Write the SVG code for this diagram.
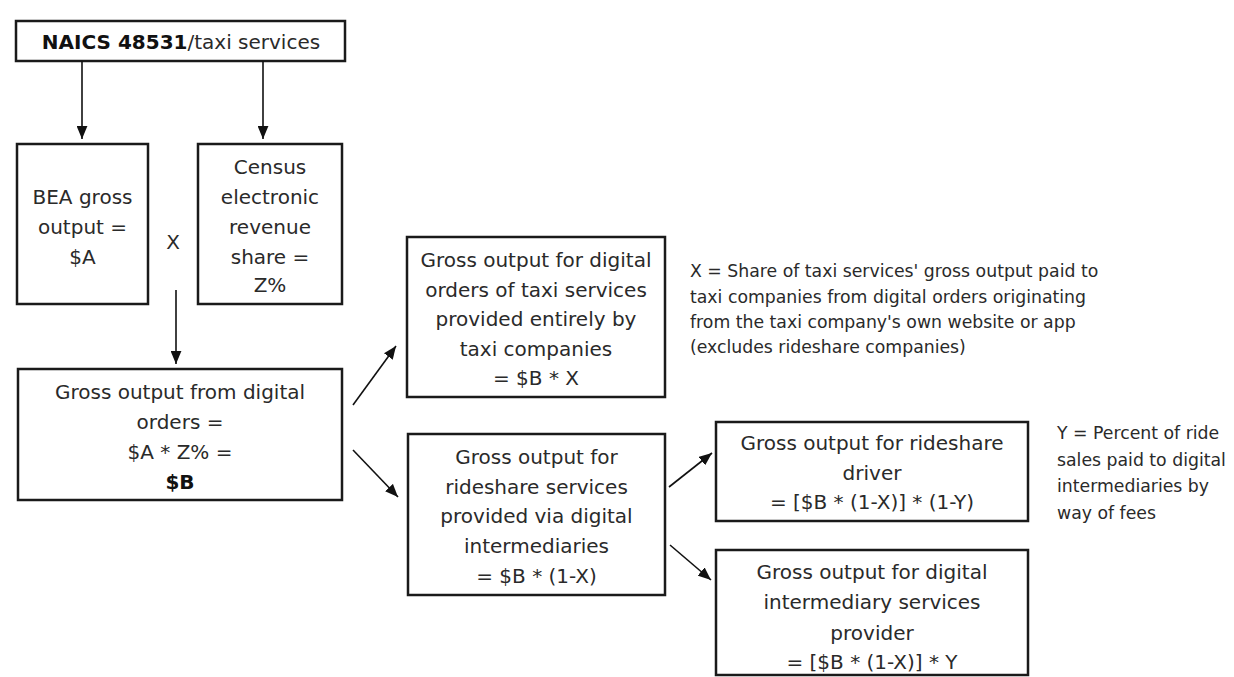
<svg xmlns="http://www.w3.org/2000/svg" width="1234" height="677" viewBox="0 0 1234 677">
  <defs>
    <marker id="ah" viewBox="0 0 12 10" refX="12" refY="5" markerWidth="13" markerHeight="11" markerUnits="userSpaceOnUse" orient="auto">
      <path d="M0,0 L12,5 L0,10 Z" fill="#111"/>
    </marker>
    <style>
      .box { fill: #fff; stroke: #1a1a1a; stroke-width: 2.5; }
      .t { font-family: "DejaVu Sans", "Liberation Sans", sans-serif; font-size: 20px; fill: #2a2a2a; text-anchor: middle; }
      .b { font-weight: bold; fill: #111; }
      .note { font-family: "DejaVu Sans", "Liberation Sans", sans-serif; font-size: 17.3px; fill: #2a2a2a; }
      .conn line { stroke: #111; stroke-width: 1.6; marker-end: url(#ah); }
    </style>
  </defs>
  <rect width="1234" height="677" fill="#fff"/>

  <g id="naics">
    <rect class="box" x="16" y="21" width="329" height="40"/>
    <text class="t" x="181" y="49"><tspan class="b">NAICS 48531</tspan>/taxi services</text>
  </g>

  <g id="bea">
    <rect class="box" x="17" y="144" width="131" height="160"/>
    <text class="t" x="82.5" y="204">BEA gross</text>
    <text class="t" x="82.5" y="234">output =</text>
    <text class="t" x="82.5" y="264">$A</text>
  </g>

  <g id="times">
    <text class="t" x="173" y="249">X</text>
  </g>

  <g id="census">
    <rect class="box" x="198" y="144" width="144" height="160"/>
    <text class="t" x="270" y="174">Census</text>
    <text class="t" x="270" y="204">electronic</text>
    <text class="t" x="270" y="234">revenue</text>
    <text class="t" x="270" y="264">share =</text>
    <text class="t" x="270" y="292">Z%</text>
  </g>

  <g id="digital-orders">
    <rect class="box" x="18" y="369" width="324" height="131"/>
    <text class="t" x="180" y="399">Gross output from digital</text>
    <text class="t" x="180" y="429">orders =</text>
    <text class="t" x="180" y="459">$A * Z% =</text>
    <text class="t b" x="180" y="489">$B</text>
  </g>

  <g id="taxi-companies">
    <rect class="box" x="407" y="237" width="258" height="160"/>
    <text class="t" x="536" y="267">Gross output for digital</text>
    <text class="t" x="536" y="296.5">orders of taxi services</text>
    <text class="t" x="536" y="326">provided entirely by</text>
    <text class="t" x="536" y="355.5">taxi companies</text>
    <text class="t" x="536" y="385">= $B * X</text>
  </g>

  <g id="note-x">
    <text class="note" x="690" y="277">X = Share of taxi services' gross output paid to</text>
    <text class="note" x="690" y="303">taxi companies from digital orders originating</text>
    <text class="note" x="690" y="328">from the taxi company's own website or app</text>
    <text class="note" x="690" y="353">(excludes rideshare companies)</text>
  </g>

  <g id="rideshare">
    <rect class="box" x="408" y="434" width="257" height="161"/>
    <text class="t" x="536.5" y="464">Gross output for</text>
    <text class="t" x="536.5" y="494">rideshare services</text>
    <text class="t" x="536.5" y="523">provided via digital</text>
    <text class="t" x="536.5" y="553">intermediaries</text>
    <text class="t" x="536.5" y="583">= $B * (1-X)</text>
  </g>

  <g id="driver">
    <rect class="box" x="716" y="422" width="312" height="99"/>
    <text class="t" x="872" y="450">Gross output for rideshare</text>
    <text class="t" x="872" y="480">driver</text>
    <text class="t" x="872" y="509">= [$B * (1-X)] * (1-Y)</text>
  </g>

  <g id="note-y">
    <text class="note" x="1057" y="439">Y = Percent of ride</text>
    <text class="note" x="1057" y="466">sales paid to digital</text>
    <text class="note" x="1057" y="492">intermediaries by</text>
    <text class="note" x="1057" y="519">way of fees</text>
  </g>

  <g id="intermediary">
    <rect class="box" x="716" y="550" width="312" height="125"/>
    <text class="t" x="872" y="579">Gross output for digital</text>
    <text class="t" x="872" y="609">intermediary services</text>
    <text class="t" x="872" y="640">provider</text>
    <text class="t" x="872" y="669">= [$B * (1-X)] * Y</text>
  </g>

  <g id="connectors" class="conn">
    <line x1="82" y1="61" x2="82" y2="139"/>
    <line x1="263" y1="61" x2="263" y2="139"/>
    <line x1="176" y1="290" x2="176" y2="364"/>
    <line x1="353" y1="405" x2="396" y2="346"/>
    <line x1="353" y1="450" x2="398" y2="497"/>
    <line x1="669" y1="487" x2="712" y2="453"/>
    <line x1="670" y1="545" x2="711" y2="580"/>
  </g>
</svg>
